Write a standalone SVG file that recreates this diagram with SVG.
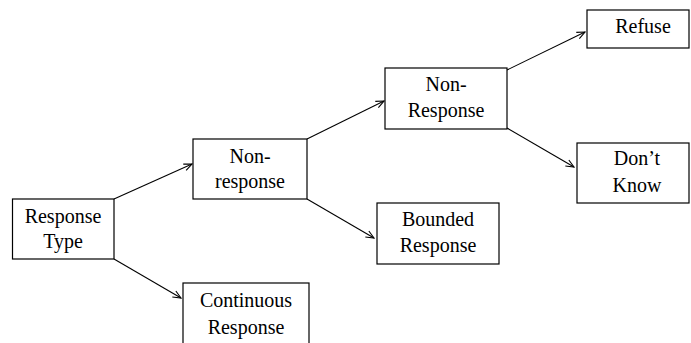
<svg xmlns="http://www.w3.org/2000/svg" width="691" height="343" viewBox="0 0 691 343">
<defs>
<marker id="ah" viewBox="0 0 10 10" refX="9" refY="5" markerWidth="10" markerHeight="10" markerUnits="userSpaceOnUse" orient="auto">
<path d="M1,1.5 L9,5 L1,8.5" fill="none" stroke="#000" stroke-width="1.1"/>
</marker>
</defs>
<rect width="691" height="343" fill="#fff"/>
<g id="connectors" fill="none" stroke="#000" stroke-width="1.1">
<line x1="114" y1="199" x2="192" y2="164" marker-end="url(#ah)"/>
<line x1="114" y1="259" x2="181" y2="298" marker-end="url(#ah)"/>
<line x1="307" y1="139" x2="384" y2="101" marker-end="url(#ah)"/>
<line x1="307" y1="199" x2="374" y2="238" marker-end="url(#ah)"/>
<line x1="507" y1="70" x2="585" y2="32" marker-end="url(#ah)"/>
<line x1="507" y1="128" x2="574" y2="167" marker-end="url(#ah)"/>
</g>
<g id="boxes" fill="#fff" stroke="#000" stroke-width="1.2">
<rect id="response-type" x="12.5" y="199" width="101.5" height="60"/>
<rect id="non-response" x="193" y="139" width="114" height="60"/>
<rect id="continuous-response" x="183" y="283" width="126" height="70"/>
<rect id="non-response-2" x="385" y="68" width="122" height="61"/>
<rect id="bounded-response" x="377" y="203" width="122" height="61"/>
<rect id="refuse" x="587" y="10" width="102" height="38"/>
<rect id="dont-know" x="577" y="143" width="112" height="60"/>
</g>
<g id="labels" style="font-family:'Liberation Serif',serif;font-size:20px" fill="#000" text-anchor="middle">
<text x="63" y="223">Response</text>
<text x="63" y="248">Type</text>
<text x="250" y="163">Non-</text>
<text x="250" y="188">response</text>
<text x="246" y="307">Continuous</text>
<text x="246" y="334">Response</text>
<text x="446" y="91">Non-</text>
<text x="446" y="117">Response</text>
<text x="438" y="226">Bounded</text>
<text x="438" y="252">Response</text>
<text x="643" y="33">Refuse</text>
<text x="637" y="165">Don&#8217;t</text>
<text x="637" y="192">Know</text>
</g>
</svg>
